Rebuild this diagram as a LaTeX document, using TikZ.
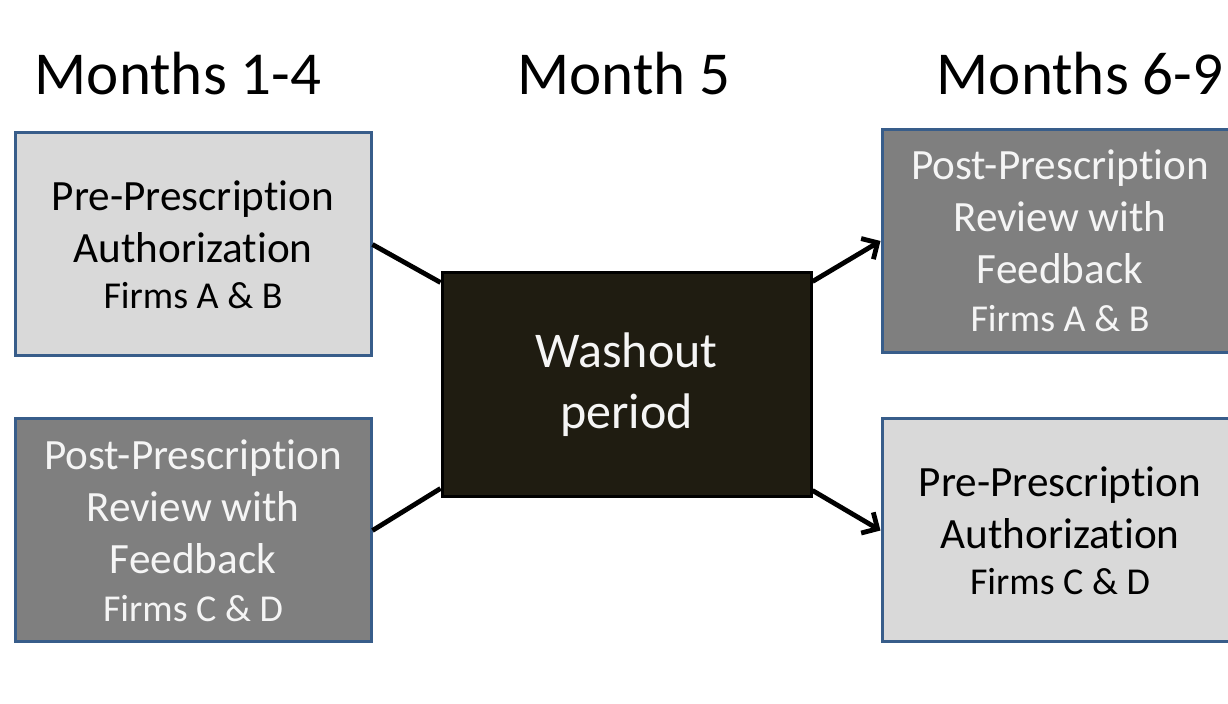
\documentclass[tikz,border=0pt]{standalone}
\usepackage{fontspec}
\setmainfont[Ligatures=NoCommon]{Carlito}
\usepackage{tikz}
\usetikzlibrary{arrows.meta}

\definecolor{lightfill}{RGB}{217,217,217}
\definecolor{darkfill}{RGB}{127,127,127}
\definecolor{washfill}{RGB}{31,28,17}
\definecolor{boxline}{RGB}{56,93,138}
\definecolor{softwhite}{RGB}{245,245,245}

\tikzset{
  phasebox/.style={draw=boxline, line width=1.5pt, minimum width=178pt,
    minimum height=111.5pt, align=center, inner sep=0pt,
    font=\fontsize{21.6}{26}\selectfont},
  lightbox/.style={phasebox, fill=lightfill, text=black},
  darkbox/.style={phasebox, fill=darkfill, text=softwhite},
  washbox/.style={draw=black, line width=1.5pt, fill=washfill, text=softwhite,
    minimum width=184.5pt, minimum height=112pt, align=center,
    font=\fontsize{25}{30.5}\selectfont},
  monthlabel/.style={anchor=base, font=\fontsize{30.5}{36}\selectfont},
  link/.style={line width=2.4pt},
  linkarrow/.style={link, -{Straight Barb[length=6pt,width=12pt,line width=2.4pt]}}
}
\newcommand{\firmline}[1]{\fontsize{19}{23}\selectfont Firms #1}

\begin{document}
\begin{tikzpicture}[x=0.5pt,y=-0.5pt]
\useasboundingbox (0,0) rectangle (1228,704);
\clip (0,0) rectangle (1228,704);

\node[monthlabel] (m14) at (178,95) {Months 1-4};
\node[monthlabel] (m5) at (624,95) {Month 5};
\node[monthlabel] (m69) at (1080,95) {Months 6-9};

\node[lightbox] (preab) at (193,244.5) {Pre-Prescription\\Authorization\\[-3pt]\firmline{A \& B}};
\node[darkbox] (postcd) at (193,530.5) {Post-Prescription\\Review with\\Feedback\\[-2pt]\firmline{C \& D}};
\node[washbox] (wash) at (626.5,385) {Washout\\period};
\node[darkbox] (postab) at (1060,241) {Post-Prescription\\Review with\\Feedback\\[-2pt]\firmline{A \& B}};
\node[lightbox] (precd) at (1060,530.5) {Pre-Prescription\\Authorization\\[-3pt]\firmline{C \& D}};

\draw[link] (preab.east) -- ([yshift=-5.5pt]wash.north west);
\draw[link] (postcd.east) -- ([yshift=5pt]wash.south west);
\draw[linkarrow] ([yshift=-5pt]wash.north east) -- (postab.west);
\draw[linkarrow] ([yshift=4pt]wash.south east) -- (precd.west);

\end{tikzpicture}
\end{document}
